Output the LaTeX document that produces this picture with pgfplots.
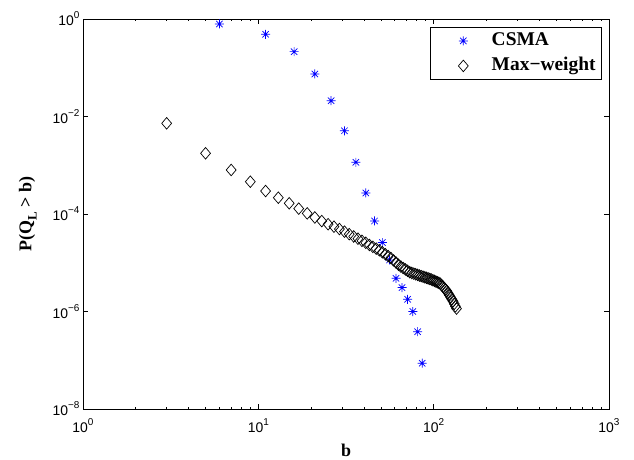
\documentclass[border=0pt]{standalone}
\usepackage{fontspec}
\setmainfont{Liberation Serif}
\setsansfont{Liberation Sans}
\usepackage{pgfplots}
\pgfplotsset{compat=1.18}

% matlab-like markers
\pgfdeclareplotmark{mstar}{%
  \pgfpathmoveto{\pgfqpoint{-\pgfplotmarksize}{0pt}}\pgfpathlineto{\pgfqpoint{\pgfplotmarksize}{0pt}}%
  \pgfpathmoveto{\pgfqpoint{0pt}{-\pgfplotmarksize}}\pgfpathlineto{\pgfqpoint{0pt}{\pgfplotmarksize}}%
  \pgfpathmoveto{\pgfqpoint{-.707\pgfplotmarksize}{-.707\pgfplotmarksize}}\pgfpathlineto{\pgfqpoint{.707\pgfplotmarksize}{.707\pgfplotmarksize}}%
  \pgfpathmoveto{\pgfqpoint{-.707\pgfplotmarksize}{.707\pgfplotmarksize}}\pgfpathlineto{\pgfqpoint{.707\pgfplotmarksize}{-.707\pgfplotmarksize}}%
  \pgfusepathqstroke}
\pgfdeclareplotmark{mdiamond}{%
  \pgfpathmoveto{\pgfqpoint{0pt}{\pgfplotmarksize}}%
  \pgfpathlineto{\pgfqpoint{.85\pgfplotmarksize}{0pt}}%
  \pgfpathlineto{\pgfqpoint{0pt}{-\pgfplotmarksize}}%
  \pgfpathlineto{\pgfqpoint{-.85\pgfplotmarksize}{0pt}}%
  \pgfpathclose\pgfusepathqstroke}

\pgfplotsset{legmark/.style={legend image code/.code={\draw[##1] plot coordinates {(28bp,0bp)}; \path (0bp,0bp) (55bp,0bp);}}}

\newcommand\tp[1]{10\raisebox{.5em}{\fontsize{10}{10}\selectfont #1}}

\pgfplotstableread{
b P
6 0.79
11 0.486
16 0.214
21 0.0745
26 0.0211
31 5.1e-3
36 1.15e-3
41 2.7e-4
46 7.2e-5
51 2.6e-5
56 1.14e-5
61 4.8e-6
66 3.1e-6
71 1.78e-6
76 1.0e-6
81 3.85e-7
86 8.7e-8
}\csma

\pgfplotstableread{
b P
3 7.24e-3
5 1.76e-3
7 8.0e-4
9 4.6e-4
11 2.96e-4
13 2.16e-4
15 1.66e-4
17 1.29e-4
19 1.03e-4
21 8.5e-5
23 7.16e-5
25 6.17e-5
27 5.5e-5
29 4.92e-5
31 4.35e-5
33 3.86e-5
35 3.46e-5
37 3.12e-5
39 2.82e-5
41 2.57e-5
43 2.32e-5
45 2.12e-5
47 1.95e-5
49 1.80e-5
51 1.64e-5
53 1.50e-5
55 1.37e-5
57 1.25e-5
59 1.12e-5
61 1.01e-5
63 9.1e-6
65 8.35e-6
67 7.8e-6
69 7.3e-6
71 6.83e-6
73 6.41e-6
75 6.18e-6
77 5.99e-6
79 5.81e-6
81 5.64e-6
83 5.47e-6
85 5.32e-6
87 5.18e-6
89 5.04e-6
91 4.91e-6
93 4.78e-6
95 4.66e-6
97 4.52e-6
99 4.38e-6
101 4.25e-6
103 4.12e-6
105 3.99e-6
107 3.88e-6
109 3.73e-6
111 3.48e-6
113 3.24e-6
115 3.01e-6
117 2.81e-6
119 2.62e-6
121 2.37e-6
123 2.15e-6
125 1.95e-6
127 1.78e-6
129 1.62e-6
131 1.44e-6
133 1.28e-6
135 1.15e-6
}\maxw

\begin{document}
\begin{tikzpicture}
\begin{axis}[
  scale only axis,
  width=526bp, height=390bp,
  xmode=log, ymode=log,
  xmin=1, xmax=1000, ymin=1e-8, ymax=1,
  axis line style={line width=1bp},
  xtick={1,10,100,1000},
  xticklabels={\tp{0},\tp{1},\tp{2},\tp{3}},
  minor xtick={2,3,4,5,6,7,8,9,20,30,40,50,60,70,80,90,200,300,400,500,600,700,800,900},
  ytick={1e-8,1e-6,1e-4,1e-2,1},
  yticklabels={\tp{−8},\tp{−6},\tp{−4},\tp{−2},\tp{0}},
  minor ytick={},
  major tick length=5bp, minor tick length=2.5bp,
  every tick/.style={line width=0.6bp, black},
  tick label style={font=\sffamily\fontsize{14}{16}\selectfont},
  xticklabel style={yshift=-6bp},
  xlabel={\textbf{b}},
  ylabel={\textbf{P(Q\raisebox{-.3em}{\fontsize{13}{13}\selectfont L} > b)}},
  label style={font=\fontsize{18}{20}\selectfont},
  x label style={at={(axis description cs:0.5,-0.106)}, anchor=center},
  y label style={at={(axis description cs:-0.105,0.5)}, anchor=center},
  legend style={at={(1,1)}, anchor=north east, xshift=-7bp, yshift=-8bp,
    font=\bfseries\fontsize{19.5}{21}\selectfont, draw=black, line width=0.8bp,
    inner xsep=5bp, inner ysep=4bp, row sep=6bp,
    nodes={inner sep=1bp, text height=13bp, text depth=4bp},
    /tikz/every odd column/.append style={column sep=0bp}},
  legend cell align=left,
]
\addplot[only marks, mark=mstar, mark size=4.5bp, color=blue, mark options={line width=0.7bp}, legmark] table {\csma};
\addlegendentry{CSMA}
\addplot[only marks, mark=mdiamond, mark size=5.8bp, color=black, mark options={line width=0.7bp}, legmark] table {\maxw};
\addlegendentry{Max−weight}
\end{axis}
\path ([shift={(-83bp,-49bp)}]current axis.south west) rectangle ([shift={(25bp,19bp)}]current axis.north east);
\end{tikzpicture}
\end{document}
